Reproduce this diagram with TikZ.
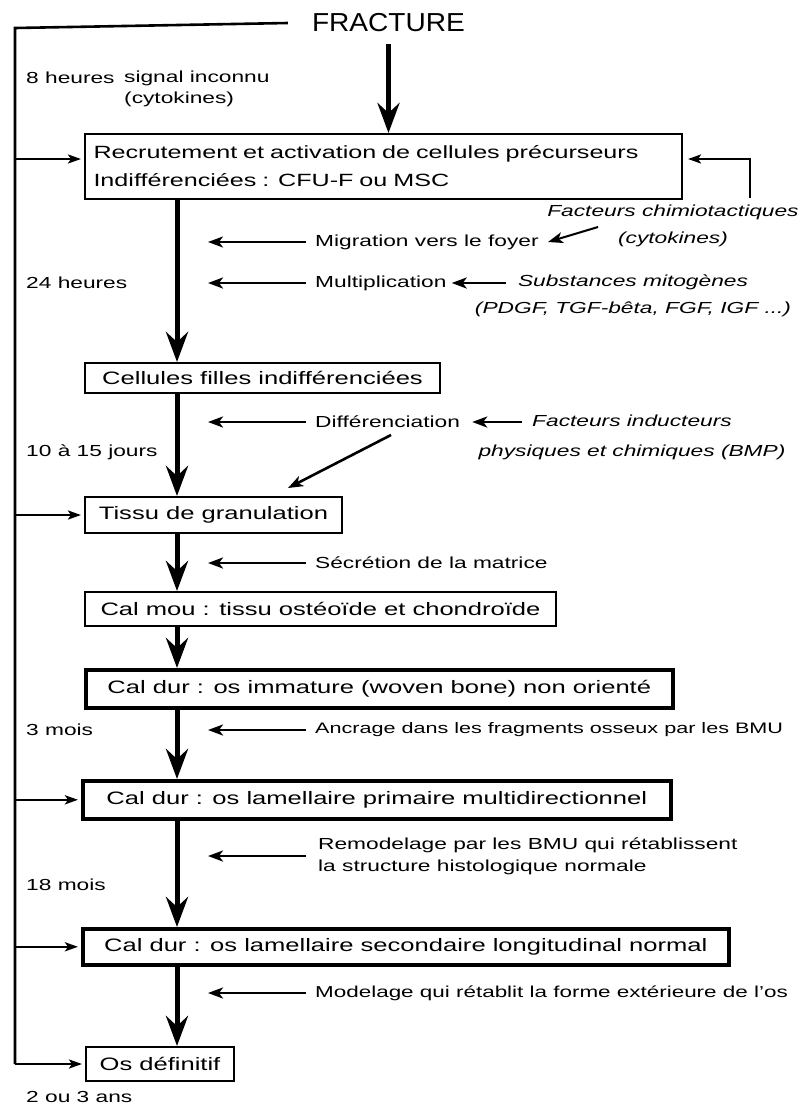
\documentclass[tikz,border=0pt]{standalone}
\usepackage{fontspec}
\setmainfont{Liberation Sans}[FakeStretch=1.42]
\newfontfamily\titlefont{Liberation Sans}[FakeStretch=1.08]
\usetikzlibrary{arrows.meta}
\begin{document}
\begin{tikzpicture}[x=1pt,y=-1pt,
  box/.style={draw,line width=2pt,anchor=north west,inner sep=0pt,font=\fontsize{18}{20}\selectfont},
  thickbox/.style={box,line width=3.6pt},
  lbl/.style={anchor=west,inner sep=0pt,font=\fontsize{16}{22}\selectfont},
  ilbl/.style={inner sep=0pt,align=center,font=\fontsize{16}{27}\selectfont\itshape},
  main/.style={line width=5pt,-{Stealth[length=30pt,width=22pt,inset=10pt]}},
  side/.style={line width=2.6pt,-{Stealth[length=15pt,width=11pt,inset=4pt]}},
  thin/.style={line width=2.4pt,-{Stealth[length=13pt,width=9pt,inset=3pt]},shorten >=3pt},
  trunk/.style={line width=2.6pt}]
\useasboundingbox (0,0) rectangle (802,1104);
% boxes
\node[box,minimum width=597pt,minimum height=65pt,text width=580pt,align=left,font=\fontsize{17.7}{20}\selectfont] (b1) at (84,133)
  {Recrutement et activation de cellules précurseurs\\[8pt]Indifférenciées : CFU-F ou MSC};
\node[box,minimum width=355pt,minimum height=30pt] (b2) at (84,362) {Cellules filles indifférenciées};
\node[box,minimum width=257pt,minimum height=36pt] (b3) at (84,496) {Tissu de granulation};
\node[box,minimum width=471pt,minimum height=34pt] (b4) at (84,591) {Cal mou : tissu ostéoïde et chondroïde};
\node[thickbox,minimum width=587pt,minimum height=38pt] (b5) at (84,668) {Cal dur : os immature (woven bone) non orienté};
\node[thickbox,minimum width=588pt,minimum height=38pt] (b6) at (81,779) {Cal dur : os lamellaire primaire multidirectionnel};
\node[thickbox,minimum width=646pt,minimum height=36pt] (b7) at (81,927) {Cal dur : os lamellaire secondaire longitudinal normal};
\node[box,minimum width=148pt,minimum height=34pt] (b8) at (85,1046) {Os définitif};
% title
\node[inner sep=0pt,font=\titlefont\fontsize{26}{28}\selectfont] (fr) at (388.5,23) {FRACTURE};
% labels
\node[lbl] (t8) at (26,78) {8 heures};
\node[lbl,align=left,font=\fontsize{16}{21}\selectfont] (sig) at (124,88.5) {signal inconnu\\(cytokines)};
\node[ilbl] (fchim) at (673,226) {Facteurs chimiotactiques\\(cytokines)};
\node[lbl] (mig) at (315,242) {Migration vers le foyer};
\node[lbl] (mult) at (315,283) {Multiplication};
\node[ilbl] (subst) at (633,296) {Substances mitogènes\\(PDGF, TGF-bêta, FGF, IGF ...)};
\node[lbl] (h24) at (26,283) {24 heures};
\node[lbl] (diff) at (315,422) {Différenciation};
\node[ilbl,font=\fontsize{16}{30}\selectfont\itshape] (find) at (632,437) {Facteurs inducteurs\\physiques et chimiques (BMP)};
\node[lbl] (j15) at (26,452) {10 à 15 jours};
\node[lbl] (secr) at (315,563) {Sécrétion de la matrice};
\node[lbl] (m3) at (26,730) {3 mois};
\node[lbl,font=\fontsize{15.2}{22}\selectfont] (ancr) at (315,730) {Ancrage dans les fragments osseux par les BMU};
\node[lbl,align=left] (remod) at (318,856) {Remodelage par les BMU qui rétablissent\\la structure histologique normale};
\node[lbl] (m18) at (26,885) {18 mois};
\node[lbl,font=\fontsize{15.8}{22}\selectfont] (modl) at (315,993) {Modelage qui rétablit la forme extérieure de l'os};
\node[lbl] (ans) at (26,1097) {2 ou 3 ans};
% coordinates
\coordinate (col) at (177,0);
\coordinate (ax) at (208,0);
\coordinate (L) at (15,28);
\coordinate (R) at (750,198);
\coordinate (b1in) at (0,159);
\coordinate (chs) at (598,227);
\coordinate (che) at (548,242);
\coordinate (mls) at (506,283);
\coordinate (dfs) at (522,422);
\coordinate (dgs) at (391,435);
\coordinate (dge) at (288,488);
% fracture arrow
\draw[main] ([yshift=-12pt]fr.south) -- (b1.north -| fr.south);
% main column
\draw[main] (b1.south -| col) -- (b2.north -| col);
\draw[main] (b2.south -| col) -- (b3.north -| col);
\draw[main] (b3.south -| col) -- (b4.north -| col);
\draw[main] (b4.south -| col) -- (b5.north -| col);
\draw[main] (b5.south -| col) -- (b6.north -| col);
\draw[main] (b6.south -| col) -- (b7.north -| col);
\draw[main] (b7.south -| col) -- (b8.north -| col);
% left trunk
\draw[trunk] ([xshift=-24pt]fr.west) -- (L) -- (L |- b8.west);
\draw[thin] (L |- b8.west) -- (b8.west);
\draw[thin] (b1in -| L) -- (b1in -| b1.west);
\draw[thin] (b3.west -| L) -- (b3.west);
\draw[thin] (b6.west -| L) -- (b6.west);
\draw[thin] (b7.west -| L) -- (b7.west);
% right arrow into b1
\draw[thin,shorten >=0pt] (R) -- (R |- b1in) -- ([xshift=5pt]b1in -| b1.east);
% side arrows
\draw[side,line width=2pt] ([xshift=-9pt]mig.west) -- (mig.west -| ax);
\draw[side] ([xshift=-9pt]mult.west) -- (mult.west -| ax);
\draw[side] ([xshift=-9pt]diff.west) -- (diff.west -| ax);
\draw[side] ([xshift=-9pt]secr.west) -- (secr.west -| ax);
\draw[side] ([xshift=-9pt]ancr.west) -- (ancr.west -| ax);
\draw[side] ([xshift=-12pt]remod.west) -- (remod.west -| ax);
\draw[side] ([xshift=-9pt]modl.west) -- (modl.west -| ax);
\draw[side,line width=2pt] (chs) -- (che);
\draw[side] (mls) -- ([xshift=5pt]mult.east);
\draw[side] (dfs) -- ([xshift=12pt]diff.east);
\draw[side] (dgs) -- (dge);
\end{tikzpicture}
\end{document}
